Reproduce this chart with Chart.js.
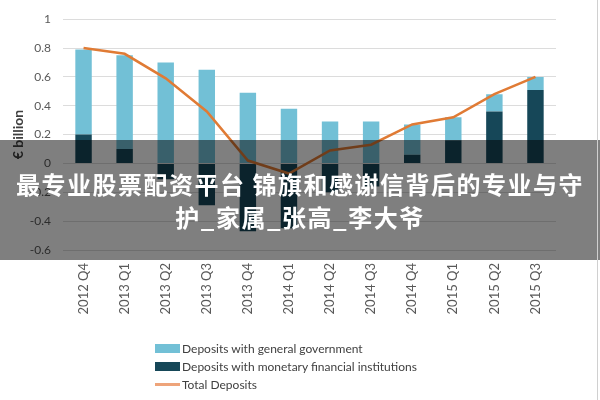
<!DOCTYPE html>
<html>
<head>
<meta charset="utf-8">
<script src="https://cdn.jsdelivr.net/npm/chart.js@4.4.1/dist/chart.umd.min.js"></script>
<style>
  html, body { margin: 0; padding: 0; background: #fff; }
  #wrap { position: relative; width: 600px; height: 400px; overflow: hidden; }
  #wrap::after { content: ""; position: absolute; right: 2px; top: 0; bottom: 0; width: 1px; background: #d0d0d0; }
  #legend { position: absolute; left: 155px; top: 339px; font-family: Lato, sans-serif; font-size: 12px; color: #404040; }
  #legend .row { height: 18px; display: flex; align-items: center; }
  #legend .sw { width: 25px; margin-right: 2px; }
  #banner {
    position: absolute; left: 0; top: 140px; width: 600px; height: 120px;
    background: rgba(0, 0, 0, 0.5); display: flex; align-items: center; justify-content: center;
    box-sizing: border-box; padding: 0 8px;
    color: #fff; font-family: "Noto Sans CJK SC", sans-serif; font-weight: bold;
    font-size: 24px; letter-spacing: 1.5px; line-height: 33px; text-align: center;
  }
</style>
</head>
<body>
<div id="wrap">
  <canvas id="myChart" width="600" height="400"></canvas>
  <div id="legend"></div>
  <div id="banner">最专业股票配资平台 锦旗和感谢信背后的专业与守护_家属_张高_李大爷</div>
</div>
<script>
// Data (€ billion)
const quarters = ["2012 Q4", "2013 Q1", "2013 Q2", "2013 Q3", "2013 Q4", "2014 Q1",
                  "2014 Q2", "2014 Q3", "2014 Q4", "2015 Q1", "2015 Q2", "2015 Q3"];
const generalGov = [0.59, 0.65, 0.70, 0.65, 0.49, 0.38, 0.29, 0.29, 0.21, 0.16, 0.12, 0.09];
const monetaryFin = [0.20, 0.10, -0.11, -0.29, -0.47, -0.45, -0.20, -0.16, 0.06, 0.16, 0.36, 0.51];
const totalDeposits = [0.80, 0.76, 0.59, 0.36, 0.02, -0.07, 0.09, 0.13, 0.27, 0.32, 0.48, 0.60];

const lightBlue = "#72c0d6";
const darkTeal = "#164758";
const orange = "#e07b35";

const ctx = document.getElementById("myChart").getContext("2d");
const myChart = new Chart(ctx, {
  type: "bar",
  data: {
    labels: quarters,
    datasets: [
      {
        type: "line",
        label: "Total Deposits",
        data: totalDeposits,
        borderColor: orange,
        backgroundColor: orange,
        borderWidth: 2.5,
        pointRadius: 0,
        tension: 0,
        order: 0,
        stack: "line",
      },
      {
        label: "Deposits with monetary financial institutions",
        data: monetaryFin,
        backgroundColor: darkTeal,
        order: 1,
        stack: "dep",
      },
      {
        label: "Deposits with general government",
        data: generalGov,
        backgroundColor: lightBlue,
        order: 1,
        stack: "dep",
      },
    ],
  },
  options: {
    responsive: false,
    animation: false,
    layout: { padding: { left: 8, right: 44, top: 13, bottom: 75 } },
    plugins: { legend: { display: false }, tooltip: { enabled: false } },
    datasets: { bar: { categoryPercentage: 1, barPercentage: 0.4 } },
    scales: {
      x: {
        stacked: true,
        grid: { display: false },
        border: { display: false },
        ticks: {
          color: "#595959",
          font: { family: "Lato", size: 13 },
          minRotation: 90,
          maxRotation: 90,
          padding: 5,
        },
        afterFit: (axis) => { axis.height = 75; },
      },
      y: {
        stacked: true,
        min: -0.6,
        max: 1,
        grid: { color: "#dcdcdc", lineWidth: 1, drawTicks: false },
        border: { display: false },
        ticks: {
          stepSize: 0.2,
          color: "#595959",
          font: { family: "Lato", size: 12 },
          padding: 12,
          callback: (value) => String(Number(value.toFixed(1))),
        },
        title: {
          display: true,
          text: "€ billion",
          color: "#404040",
          font: { family: "Lato", size: 14, weight: "bold" },
          padding: { top: 2, bottom: 0 },
        },
        afterFit: (axis) => { axis.width = 55; },
      },
    },
  },
});

// Legend in the reference order
const legendItems = [
  { label: "Deposits with general government", color: lightBlue, kind: "box" },
  { label: "Deposits with monetary financial institutions", color: darkTeal, kind: "box" },
  { label: "Total Deposits", color: "#eea47a", kind: "line" },
];
const legend = document.getElementById("legend");
legendItems.forEach((item) => {
  const row = document.createElement("div");
  row.className = "row";
  const sw = document.createElement("span");
  sw.className = "sw";
  sw.style.background = item.color;
  sw.style.height = item.kind === "box" ? "9px" : "3px";
  const txt = document.createElement("span");
  txt.textContent = item.label;
  row.appendChild(sw);
  row.appendChild(txt);
  legend.appendChild(row);
});
</script>
</body>
</html>
